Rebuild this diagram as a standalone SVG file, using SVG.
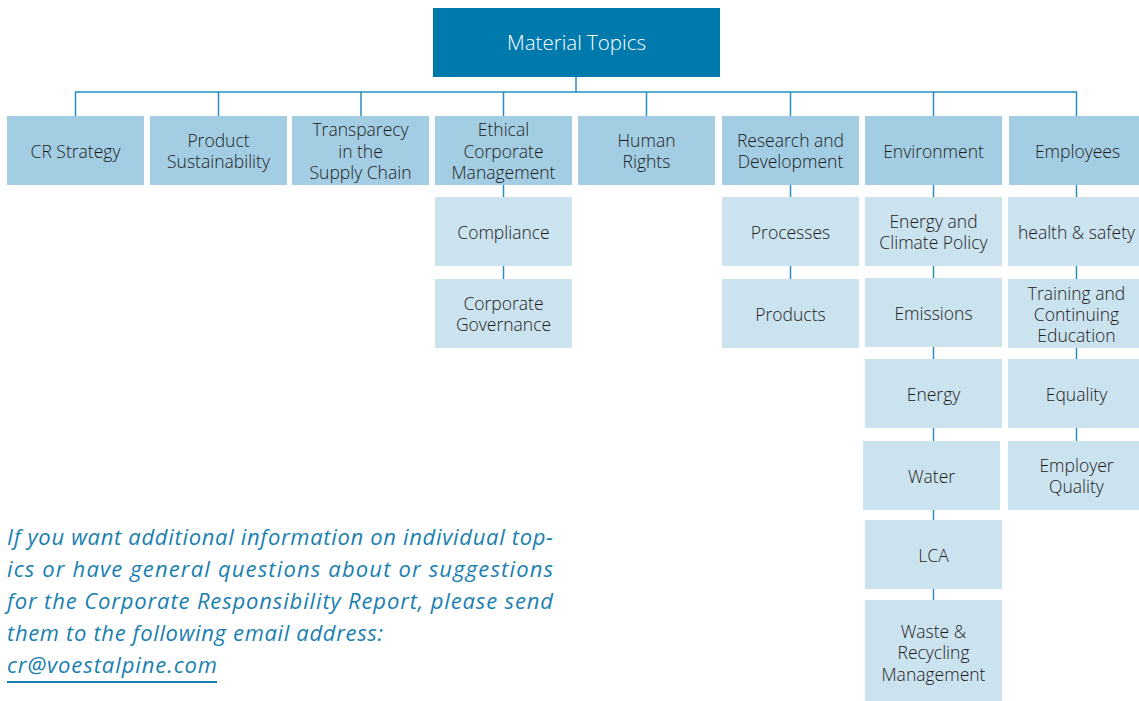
<svg xmlns="http://www.w3.org/2000/svg" width="1139" height="701" viewBox="0 0 1139 701">
<style>
.top{fill:#0079ad}
.l1{fill:#a3cde3}
.l2{fill:#cbe2ef}
.t{font-family:"Open Sans","Liberation Sans",sans-serif;font-size:17.5px;font-weight:300;fill:#1d1d1b;text-anchor:middle}
.tt{font-family:"Open Sans","Liberation Sans",sans-serif;font-size:20.5px;font-weight:300;fill:#ffffff;text-anchor:middle}
.c{stroke:#2a8dbf;stroke-width:1.5;fill:none}
.p{font-family:"Open Sans","Liberation Sans",sans-serif;font-size:22px;font-style:italic;font-weight:400;fill:#1a7fb0}
</style>
<rect width="1139" height="701" fill="#ffffff"/>
<g id="connectors">
<path class="c" d="M576 77V92M75.5 116V92H1076.5V116M218.5 92V116M361 92V116M503.5 92V116M646.5 92V116M790.5 92V116M933.5 92V116"/>
<path class="c" d="M503.5 185V197M503.5 266V279M790.5 185V197M790.5 266V279"/>
<path class="c" d="M933.5 185V197M933.5 266V278M933.5 347V359M933.5 428V441M933.5 510V520M933.5 589V600"/>
<path class="c" d="M1076.5 185V197M1076.5 266V279M1076.5 348V359M1076.5 428V441"/>
</g>
<g id="material-topics"><rect class="top" x="433" y="8" width="287" height="69"/><text class="tt" x="576.5" y="50">Material Topics</text></g>
<g id="cr-strategy"><rect class="l1" x="7" y="116" width="137" height="69"/><text class="t" x="75.5" y="158">CR Strategy</text></g>
<g id="product-sustainability"><rect class="l1" x="150" y="116" width="137" height="69"/><text class="t" x="218.5" y="147">Product</text><text class="t" x="218.5" y="168">Sustainability</text></g>
<g id="transparency"><rect class="l1" x="292" y="116" width="137" height="69"/><text class="t" x="360.5" y="136">Transparecy</text><text class="t" x="360.5" y="158">in the</text><text class="t" x="360.5" y="179">Supply Chain</text></g>
<g id="ethical"><rect class="l1" x="435" y="116" width="137" height="69"/><text class="t" x="503.5" y="136">Ethical</text><text class="t" x="503.5" y="158">Corporate</text><text class="t" x="503.5" y="179">Management</text></g>
<g id="human-rights"><rect class="l1" x="578" y="116" width="137" height="69"/><text class="t" x="646.5" y="147">Human</text><text class="t" x="646.5" y="168">Rights</text></g>
<g id="rnd"><rect class="l1" x="722" y="116" width="137" height="69"/><text class="t" x="790.5" y="147">Research and</text><text class="t" x="790.5" y="168">Development</text></g>
<g id="environment"><rect class="l1" x="865" y="116" width="137" height="69"/><text class="t" x="933.5" y="158">Environment</text></g>
<g id="employees"><rect class="l1" x="1009" y="116" width="137" height="69"/><text class="t" x="1077.5" y="158">Employees</text></g>
<g id="compliance"><rect class="l2" x="435" y="197" width="137" height="69"/><text class="t" x="503.5" y="239">Compliance</text></g>
<g id="corporate-governance"><rect class="l2" x="435" y="279" width="137" height="69"/><text class="t" x="503.5" y="310">Corporate</text><text class="t" x="503.5" y="331">Governance</text></g>
<g id="processes"><rect class="l2" x="722" y="197" width="137" height="69"/><text class="t" x="790.5" y="239">Processes</text></g>
<g id="products"><rect class="l2" x="722" y="279" width="137" height="69"/><text class="t" x="790.5" y="321">Products</text></g>
<g id="energy-climate"><rect class="l2" x="865" y="197" width="137" height="69"/><text class="t" x="933.5" y="228">Energy and</text><text class="t" x="933.5" y="249">Climate Policy</text></g>
<g id="emissions"><rect class="l2" x="865" y="278" width="137" height="69"/><text class="t" x="933.5" y="320">Emissions</text></g>
<g id="energy"><rect class="l2" x="865" y="359" width="137" height="69"/><text class="t" x="933.5" y="401">Energy</text></g>
<g id="water"><rect class="l2" x="863" y="441" width="137" height="69"/><text class="t" x="931.5" y="483">Water</text></g>
<g id="lca"><rect class="l2" x="865" y="520" width="137" height="69"/><text class="t" x="933.5" y="562">LCA</text></g>
<g id="waste"><rect class="l2" x="865" y="600" width="137" height="101"/><text class="t" x="933.5" y="638">Waste &amp;</text><text class="t" x="933.5" y="659">Recycling</text><text class="t" x="933.5" y="681">Management</text></g>
<g id="health-safety"><rect class="l2" x="1008" y="197" width="137" height="69"/><text class="t" x="1076.5" y="239">health &amp; safety</text></g>
<g id="training"><rect class="l2" x="1008" y="279" width="137" height="69"/><text class="t" x="1076.5" y="300">Training and</text><text class="t" x="1076.5" y="321">Continuing</text><text class="t" x="1076.5" y="342">Education</text></g>
<g id="equality"><rect class="l2" x="1008" y="359" width="137" height="69"/><text class="t" x="1076.5" y="401">Equality</text></g>
<g id="employer-quality"><rect class="l2" x="1008" y="441" width="137" height="69"/><text class="t" x="1076.5" y="472">Employer</text><text class="t" x="1076.5" y="493">Quality</text></g>
<g id="note">
<text class="p" x="7" y="545" textLength="546" lengthAdjust="spacing">If you want additional information on individual top-</text>
<text class="p" x="7" y="577" textLength="546" lengthAdjust="spacing">ics or have general questions about or suggestions</text>
<text class="p" x="7" y="609" textLength="546" lengthAdjust="spacing">for the Corporate Responsibility Report, please send</text>
<text class="p" x="7" y="641" textLength="376" lengthAdjust="spacing">them to the following email address:</text>
<text class="p" x="7" y="673" textLength="210" lengthAdjust="spacing">cr@voestalpine.com</text>
<line x1="7" y1="682" x2="217" y2="682" stroke="#1a7fb0" stroke-width="2"/>
</g>
</svg>
